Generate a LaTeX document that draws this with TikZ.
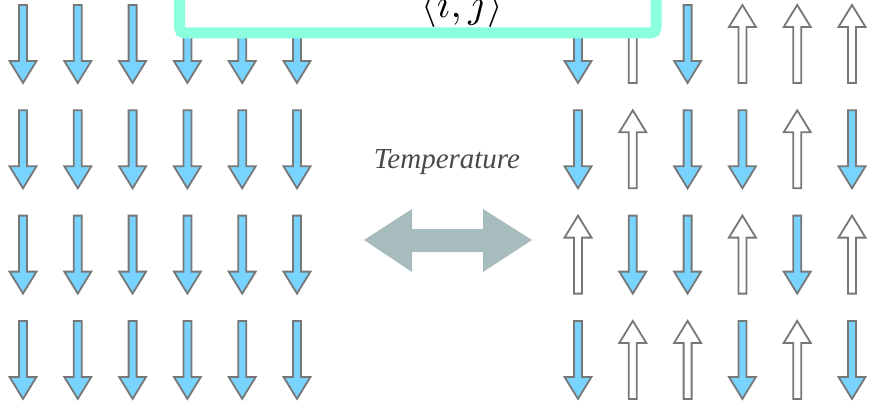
\documentclass[tikz,border=0pt]{standalone}
\usepackage{fontspec}
\newfontfamily\tempfont{Liberation Serif}
\definecolor{spinblue}{HTML}{78D4FF}
\definecolor{spingray}{HTML}{777777}
\definecolor{boxteal}{HTML}{8CFFDF}
\definecolor{tarrow}{HTML}{A7BDBD}
\definecolor{tgray}{HTML}{4A4A4A}
\tikzset{
  spinline/.style={draw=spingray,line width=1.8pt,line join=miter},
}
\newcommand\spindown[3]{%
  \filldraw[spinline,fill=#3] (#1-4,#2) -- (#1+4,#2) -- (#1+4,#2+56) -- (#1+13.5,#2+56)
    -- (#1,#2+78) -- (#1-13.5,#2+56) -- (#1-4,#2+56) -- cycle;}
\newcommand\spinup[3]{%
  \filldraw[spinline,fill=#3] (#1,#2) -- (#1+13.5,#2+22) -- (#1+4,#2+22) -- (#1+4,#2+78)
    -- (#1-4,#2+78) -- (#1-4,#2+22) -- (#1-13.5,#2+22) -- cycle;}
\begin{document}
\begin{tikzpicture}[x=1pt,y=-1pt]
\useasboundingbox (0,0) rectangle (875,404);
\clip (0,0) rectangle (875,404);
% left grid: all down
\foreach \r in {0,1,2,3}{
  \foreach \c in {0,...,5}{
    \spindown{23+54.8*\c}{5+105.3*\r}{spinblue}
  }
}
% right grid
\foreach \r/\pat in {0/{d,u,d,u,u,u},1/{d,u,d,d,u,d},2/{u,d,d,u,d,u},3/{d,u,u,d,u,d}}{
  \foreach \s [count=\c from 0] in \pat {
    \if\s d
      \spindown{578+54.8*\c}{5+105.3*\r}{spinblue}
    \else
      \spinup{578+54.8*\c}{5+105.3*\r}{white}
    \fi
  }
}
% teal box
\draw[boxteal,line width=11pt,fill=white,rounded corners=5pt] (179.5,-120) rectangle (656,33);
\node[anchor=base,scale=4,inner sep=0pt] (ij) at (462,18) {$\langle i,j\rangle$};
% temperature
\node[anchor=base,text=tgray,font=\tempfont\fontsize{29}{29}\selectfont\itshape] (temp) at (447,168) {Temperature};
\fill[tarrow] (364,240) -- (412,209) -- (412,229) -- (483,229) -- (483,209) -- (532,240)
  -- (483,272) -- (483,252) -- (412,252) -- (412,272) -- cycle;
\end{tikzpicture}
\end{document}
